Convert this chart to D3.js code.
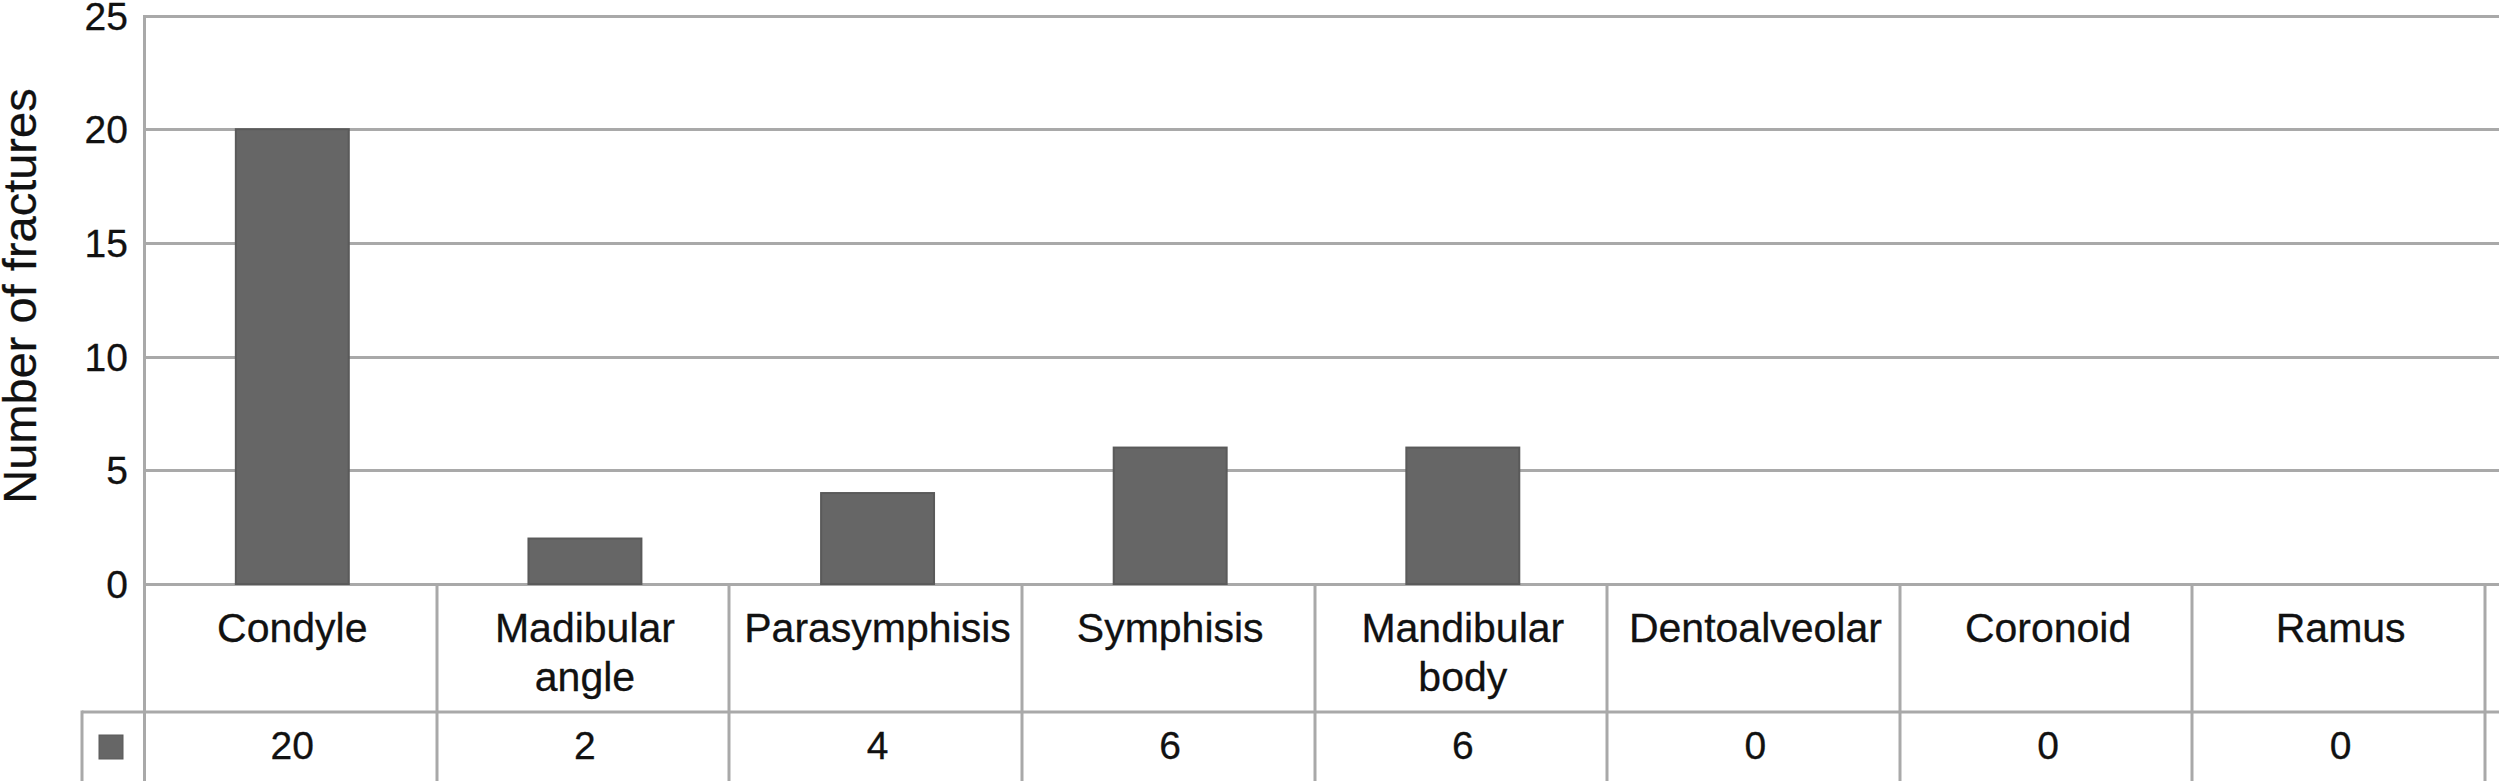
<!DOCTYPE html>
<html><head><meta charset="utf-8">
<script src="https://cdn.jsdelivr.net/npm/d3@7"></script>
<style>html,body{margin:0;padding:0;background:#fff;overflow:hidden}svg{display:block}</style>
</head><body>
<script>
const categories = ["Condyle", "Madibular\nangle", "Parasymphisis", "Symphisis", "Mandibular\nbody", "Dentoalveolar", "Coronoid", "Ramus"];
const values = [20, 2, 4, 6, 6, 0, 0, 0];
const yTicks = [0, 5, 10, 15, 20, 25];
const yLabel = "Number of fractures";

const W = 2499, H = 781;
const FONT = "'Liberation Sans', Arial, Helvetica, sans-serif";
const gridColor = "#a9a9a9";
const barColor = "#666666";
const LW = 3;

const svg = d3.select("body").append("svg").attr("width", W).attr("height", H)
  .style("background", "#fff");

const x = d3.scaleBand().domain(categories).range([144, 2485]).padding(0);
const y = d3.scaleLinear().domain([0, 25]).range([584, 15.5]);

// gridlines
svg.append("g").selectAll("line").data(yTicks).join("line")
  .attr("x1", 144).attr("x2", W)
  .attr("y1", d => Math.round(y(d)) + 0.5).attr("y2", d => Math.round(y(d)) + 0.5)
  .attr("stroke", gridColor).attr("stroke-width", LW);

// y axis line (continues through table)
svg.append("line").attr("x1", 144.5).attr("x2", 144.5).attr("y1", Math.round(y(25)) - 1).attr("y2", H)
  .attr("stroke", gridColor).attr("stroke-width", LW);

const textStyle = sel => sel.style("font-family", FONT).attr("fill", "#111")
  .attr("stroke", "#111").attr("stroke-width", 0.3);

// tick labels
svg.append("g").selectAll("text").data(yTicks).join("text")
  .attr("x", 128).attr("y", d => y(d))
  .attr("text-anchor", "end").attr("dy", "0.36em")
  .style("font-size", "39px").call(textStyle)
  .text(d => d);

// y label
svg.append("text")
  .attr("transform", `translate(36,296) rotate(-90)`)
  .attr("text-anchor", "middle")
  .style("font-size", "47px").call(textStyle)
  .text(yLabel);

// bars
const bw = x.bandwidth() * 0.386;
svg.append("g").selectAll("rect").data(categories.map((c, i) => ({c, v: values[i]})).filter(d => d.v > 0)).join("rect")
  .attr("x", d => x(d.c) + x.bandwidth() / 2 - bw / 2 + 2)
  .attr("width", bw)
  .attr("y", d => y(d.v))
  .attr("height", d => y(0) - y(d.v))
  .attr("fill", barColor).attr("stroke", "#5a5a5a").attr("stroke-width", 2);

// table: row divider
const rowY = 712;
svg.append("line").attr("x1", 82).attr("x2", W).attr("y1", rowY).attr("y2", rowY)
  .attr("stroke", gridColor).attr("stroke-width", LW);
// legend cell left border
svg.append("line").attr("x1", 82).attr("x2", 82).attr("y1", rowY - 1.5).attr("y2", H)
  .attr("stroke", gridColor).attr("stroke-width", LW);
// column dividers
svg.append("g").selectAll("line").data(categories).join("line")
  .attr("x1", d => Math.round(x(d) + x.bandwidth())).attr("x2", d => Math.round(x(d) + x.bandwidth()))
  .attr("y1", y(0)).attr("y2", H)
  .attr("stroke", gridColor).attr("stroke-width", LW);

// category labels
const lab = svg.append("g").selectAll("text").data(categories).join("text")
  .attr("transform", d => `translate(${x(d) + x.bandwidth() / 2 + 2},642)`)
  .attr("text-anchor", "middle")
  .style("font-size", "41px").call(textStyle);
lab.each(function(d) {
  const lines = d.split("\n");
  d3.select(this).selectAll("tspan").data(lines).join("tspan")
    .attr("x", 0).attr("y", (l, i) => i * 49).text(l => l);
});

// value row
svg.append("g").selectAll("text").data(categories).join("text")
  .attr("x", d => x(d) + x.bandwidth() / 2 + 2).attr("y", 759)
  .attr("text-anchor", "middle")
  .style("font-size", "39px").call(textStyle)
  .text((d, i) => values[i]);

// legend key
svg.append("rect").attr("x", 99).attr("y", 735).attr("width", 24).attr("height", 24)
  .attr("fill", barColor).attr("stroke", "#5a5a5a").attr("stroke-width", 1);
</script>
</body></html>
